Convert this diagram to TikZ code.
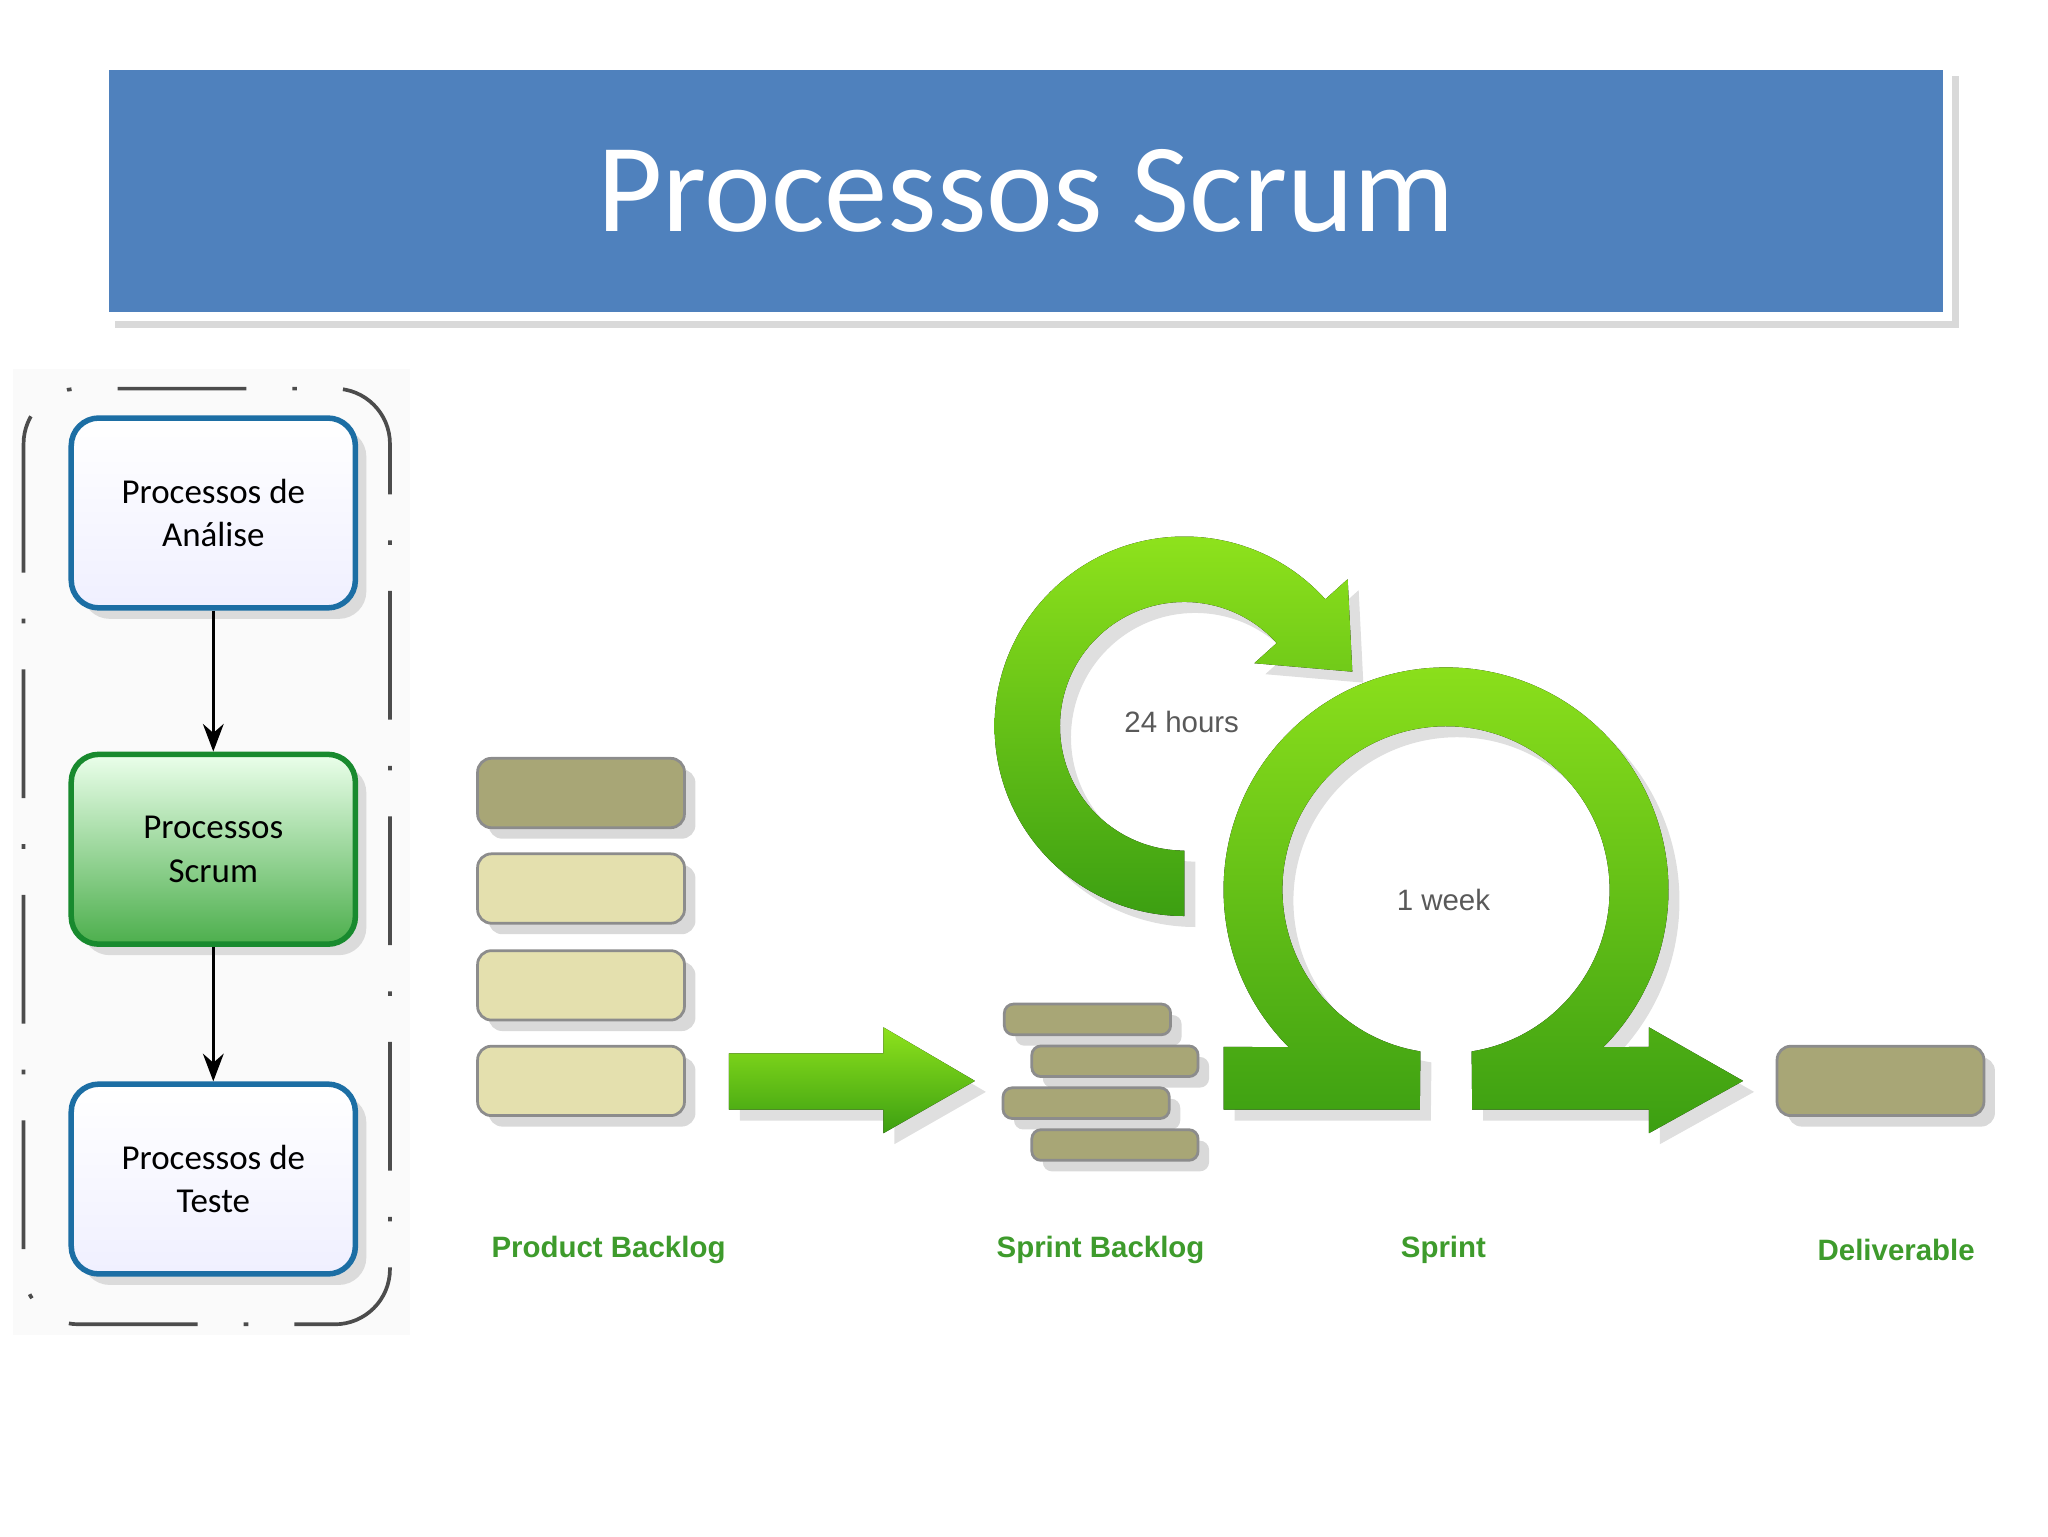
\documentclass[tikz,border=0pt]{standalone}
\usepackage{fontspec}
\setmainfont{Carlito}
\newfontfamily\arialf{Liberation Sans}
\usetikzlibrary{shadows,arrows.meta}
\definecolor{slideblue}{HTML}{4F81BD}
\definecolor{boxblue}{HTML}{1C6EA4}
\definecolor{boxgreen}{HTML}{188A2E}
\definecolor{olive}{HTML}{A8A676}
\definecolor{cream}{HTML}{E4E0AE}
\definecolor{lblgreen}{HTML}{3E9B2C}
\definecolor{lime}{HTML}{8EE21C}
\definecolor{darklime}{HTML}{3C9F12}
\tikzset{
  proc/.style={draw=boxblue, line width=1.2pt, rounded corners=6pt, minimum width=2.17cm,
    minimum height=1.45cm, align=center, font=\fontsize{7.6}{9.5}\selectfont,
    top color=white, bottom color=blue!6, drop shadow={opacity=0.25}},
  bar/.style={rounded corners=3pt, minimum width=1.58cm, minimum height=0.53cm,
    draw=black!45, line width=0.6pt, drop shadow={opacity=0.3}},
  sbar/.style={bar, fill=olive, minimum width=1.27cm, minimum height=0.22cm, rounded corners=2pt},
  lbl/.style={font=\arialf\bfseries\fontsize{6.4}{8}\selectfont, text=lblgreen},
  gray lbl/.style={font=\arialf\fontsize{6.4}{8}\selectfont, text=black!65},
  swoosh/.style={top color=lime, bottom color=darklime, drop shadow={opacity=0.25}}
}
\begin{document}
\begin{tikzpicture}[x=0.01cm,y=-0.01cm]
\useasboundingbox (0,0) rectangle (1565,1174);
% title
\node[draw=white, line width=2pt, fill=slideblue, minimum width=14.08cm, minimum height=1.92cm,
  drop shadow={opacity=0.3}, text=white, font=\fontsize{27.5}{32}\selectfont] (title) at (784,146) {Processos Scrum};
% left flow
\fill[black!2] (10,282) rectangle (313,1020);
\draw[black!70, line width=0.8pt, rounded corners=12pt, dash pattern=on 28pt off 10pt on 1pt off 10pt]
  (18,297) rectangle (298,1012);
\node[proc] (ana) at (163,392) {Processos de\\Análise};
\node[proc, draw=boxgreen, top color=green!8, bottom color=green!55!black!70] (scr) at (163,649) {Processos\\Scrum};
\node[proc] (tst) at (163,901) {Processos de\\Teste};
\draw[-{Stealth[length=6pt]}, line width=0.7pt] (ana) -- (scr);
\draw[-{Stealth[length=6pt]}, line width=0.7pt] (scr) -- (tst);
% product backlog
\node[bar, fill=olive] (pb1) at (444,606) {};
\node[bar, fill=cream] (pb2) at (444,679) {};
\node[bar, fill=cream] (pb3) at (444,753) {};
\node[bar, fill=cream] (pb4) at (444,826) {};
% sprint backlog
\node[sbar] (sb1) at (831,779) {};
\node[sbar] (sb2) at (852,811) {};
\node[sbar] (sb3) at (830,843) {};
\node[sbar] (sb4) at (852,875) {};
% deliverable
\node[bar, fill=olive] (dlv) at (1437,826) {};
% arrow to sprint backlog
\fill[swoosh] (557,805) -- (675,805) -- (675,785) -- (745,826) -- (675,866) -- (675,848) -- (557,848) -- cycle;
% 24 hours loop
\coordinate (c24) at (905,555);
\fill[swoosh] ([shift={(90:145)}]c24) arc[start angle=90, end angle=318, radius=145]
  -- ([shift={(318:168)}]c24) -- ([shift={(342:135)}]c24) -- ([shift={(318:72)}]c24)
  -- ([shift={(318:95)}]c24) arc[start angle=318, end angle=90, radius=95] -- cycle;
% sprint omega
\coordinate (cw) at (1105,680);
\fill[swoosh] (935,848) -- (935,800) -- ([shift={(135:170)}]cw) arc[start angle=135, end angle=405, radius=170]
  -- (1260,800) -- (1260,785) -- (1332,826) -- (1260,866) -- (1260,848) -- (1125,848)
  -- ([shift={(81:125)}]cw) arc[start angle=81, end angle=-261, radius=125]
  -- (1085,848) -- cycle;
% texts
\node[gray lbl] (h24) at (903,552) {24 hours};
\node[gray lbl] (wk) at (1103,688) {1 week};
\node[lbl] (lpb) at (465,955) {Product Backlog};
\node[lbl] (lsb) at (841,955) {Sprint Backlog};
\node[lbl] (lsp) at (1103,955) {Sprint};
\node[lbl] (ldl) at (1449,955) {Deliverable};
\end{tikzpicture}
\end{document}
